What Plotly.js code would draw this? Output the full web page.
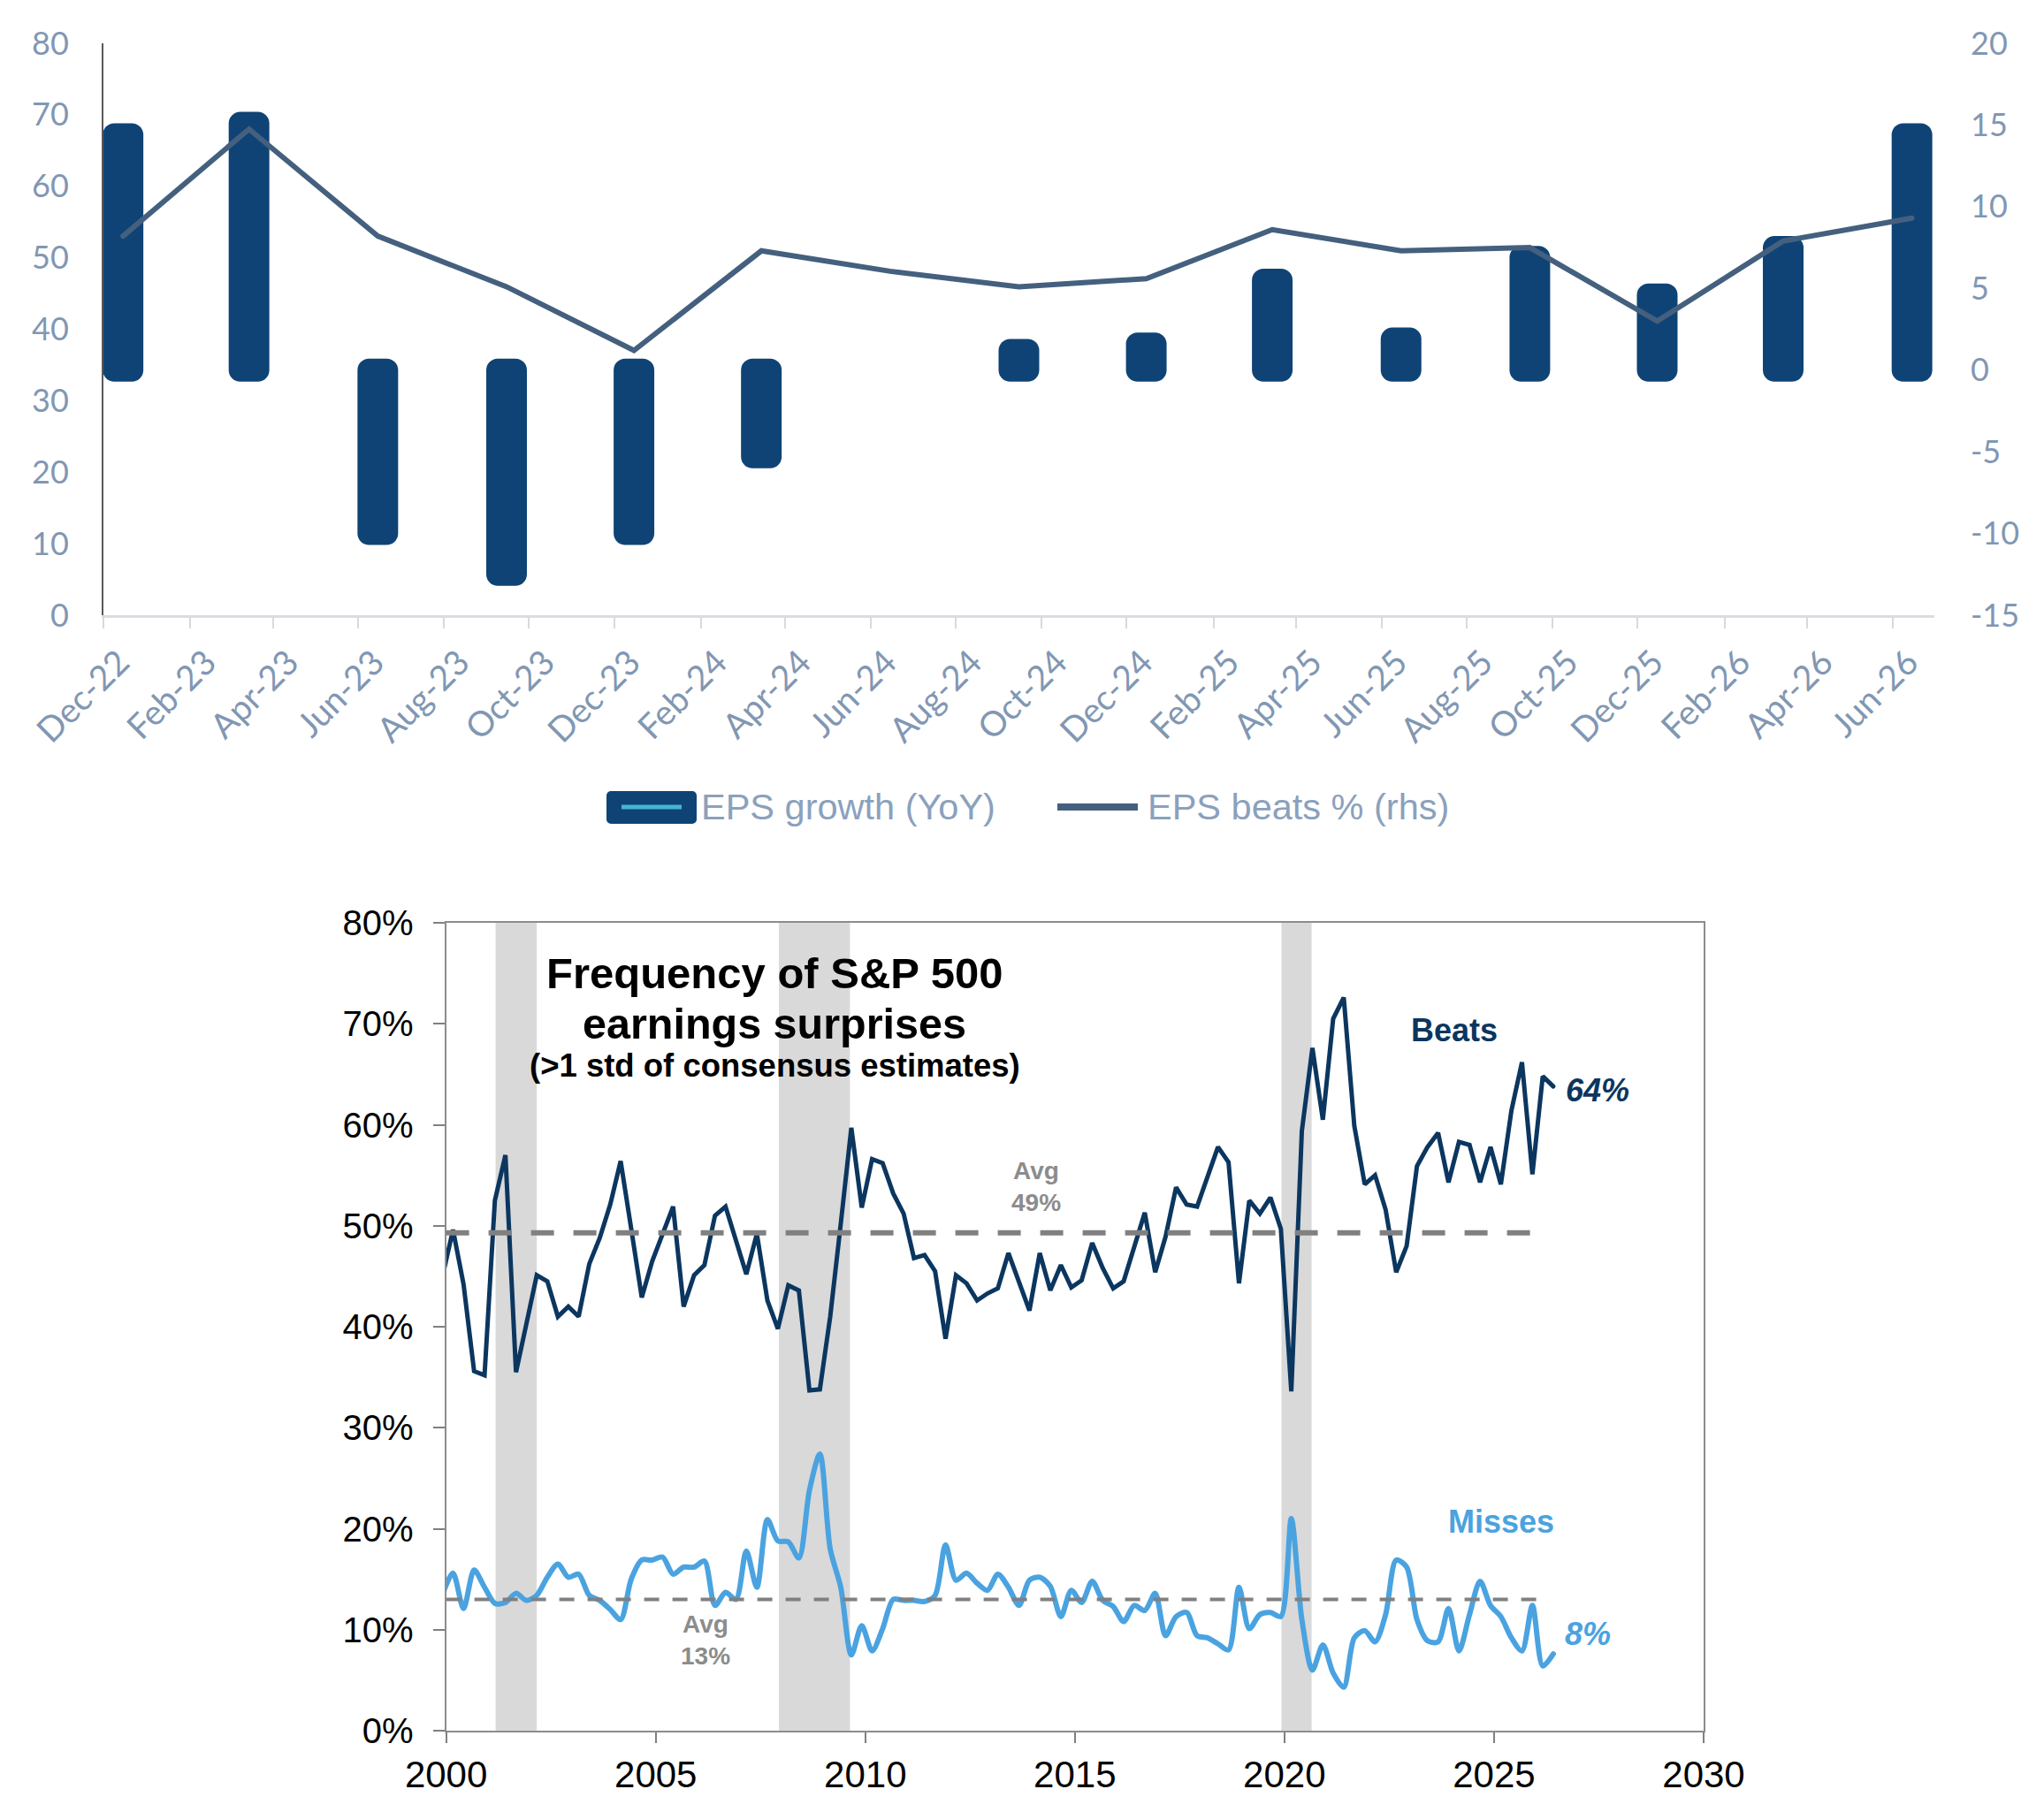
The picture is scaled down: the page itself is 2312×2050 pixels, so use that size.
<!DOCTYPE html>
<html>
<head>
<meta charset="utf-8">
<script src="https://cdn.plot.ly/plotly-3.0.1.min.js"></script>
<style>
  html, body { margin: 0; padding: 0; background: #fff; }
  #chart { width: 2312px; height: 2050px; }
  /* Excel-style rounded bar ends and round line caps */
  .trace.bars path { stroke-linejoin: round; }
  .shapelayer path { stroke-linejoin: round; }
  .trace.scatter .js-line { stroke-linecap: round; }
</style>
</head>
<body>
<div id="chart"></div>
<script>
const W = 2312, H = 2050;
const px = x => x / W;
const py = y => 1 - y / H;

// ---- top chart: EPS growth vs EPS beats (quarterly) ----
const epsDates = ['2022-12-15', '2023-03-15', '2023-06-15', '2023-09-15', '2023-12-15',
    '2024-03-15', '2024-06-15', '2024-09-15', '2024-12-15', '2025-03-15',
    '2025-06-15', '2025-09-15', '2025-12-15', '2026-03-15', '2026-06-15'];
const epsGrowth = [14.4, 15.1, -10.0, -12.5, -10.0, -5.3, null, 1.2, 1.6, 5.5, 1.9, 6.9, 4.6, 7.5, 14.4];
const epsBeats = [8.2, 14.75, 8.2, 5.1, 1.2, 7.3, 6.05, 5.1, 5.6, 8.6, 7.3, 7.5, 3.0, 7.9, 9.3];
const rhsTicks = [-15, -10, -5, 0, 5, 10, 15, 20];

// ---- bottom chart: frequency of S&P 500 earnings surprises, quarterly from Dec-1999 ----
const surpriseStart = { year: 1999, month: 12 };
const beats = [45.0, 49.6, 44.2, 35.6, 35.2, 52.5, 57.0, 35.5, 40.3, 45.1,
    44.5, 41.0, 42.0, 41.0, 46.2, 48.8, 52.1, 56.4, 49.7, 42.9,
    46.5, 49.3, 51.9, 42.0, 45.1, 46.1, 51.0, 51.9, 48.6, 45.2,
    49.2, 42.6, 39.8, 44.1, 43.6, 33.7, 33.8, 41.0, 50.2, 59.7,
    51.8, 56.6, 56.2, 53.2, 51.2, 46.8, 47.1, 45.5, 38.8, 45.1,
    44.3, 42.6, 43.3, 43.8, 47.3, 44.5, 41.6, 47.3, 43.6, 46.1,
    43.9, 44.6, 48.3, 45.8, 43.8, 44.5, 47.8, 51.3, 45.4, 48.9,
    53.8, 52.1, 51.9, 54.8, 57.8, 56.3, 44.3, 52.5, 51.2, 52.8,
    49.7, 33.6, 59.4, 67.6, 60.5, 70.5, 72.6, 59.9, 54.1, 55.0,
    51.6, 45.4, 48.0, 55.9, 57.8, 59.2, 54.3, 58.3, 58.0, 54.3,
    57.8, 54.1, 61.4, 66.2, 55.1, 64.8, 63.8];
const misses = [13.5, 15.6, 12.1, 15.9, 14.2, 12.6, 12.7, 13.6, 12.9, 13.4,
    15.2, 16.5, 15.2, 15.5, 13.4, 12.9, 12.0, 11.0, 15.0, 16.9,
    16.9, 17.2, 15.5, 16.2, 16.2, 16.8, 12.4, 13.7, 13.0, 17.8,
    14.2, 20.9, 18.8, 18.7, 17.1, 23.8, 27.4, 18.0, 14.2, 7.5,
    10.4, 7.9, 10.1, 13.0, 12.9, 12.9, 12.8, 13.4, 18.4, 14.9,
    15.6, 14.6, 13.9, 15.5, 14.2, 12.4, 14.9, 15.2, 14.3, 11.3,
    13.9, 12.7, 14.8, 12.9, 12.3, 10.8, 12.4, 11.9, 13.6, 9.4,
    11.3, 11.7, 9.4, 9.2, 8.6, 8.0, 14.2, 10.1, 11.5, 11.7,
    11.3, 21.0, 11.0, 6.0, 8.5, 5.7, 4.3, 9.2, 9.9, 8.8,
    11.5, 16.9, 16.2, 11.0, 8.9, 8.8, 12.1, 7.9, 11.5, 14.8,
    12.4, 11.3, 9.2, 7.9, 12.4, 6.4, 7.6];
const avgBeats = 49.3;
const avgMisses = 13.0;
const avgSpan = ['2000-01-01', '2026-02-01'];
const recessionStart = ['2001-03-07', '2007-12-10', '2019-12-06'];
const recessionEnd = ['2002-03-01', '2009-08-20', '2020-08-25'];

// quarter dates for the surprise series
const surpriseDates = beats.map((_, i) => {
    const m = surpriseStart.month - 1 + 3 * i;
    const yr = surpriseStart.year + Math.floor(m / 12);
    const mo = (m % 12) + 1;
    return yr + '-' + String(mo).padStart(2, '0') + '-01';
});

const navy = '#0f4375';
const slate = '#44607e';
const tickBlue = '#8197b3';
const beatsColor = '#0b365f';
const missColor = '#4aa3e0';
const avgGrey = '#808080';

const traces = [
    { x: [], y: [], xaxis: 'x', yaxis: 'y', type: 'scatter', showlegend: false, hoverinfo: 'skip' },
    {
        x: epsDates, y: epsGrowth, xaxis: 'x', yaxis: 'y2', type: 'bar',
        width: 1.09e9,
        marker: { color: navy, line: { color: navy, width: 26 } },
        name: 'EPS growth (YoY)', showlegend: false,
    },
    {
        x: epsDates, y: epsBeats, xaxis: 'x', yaxis: 'y2', type: 'scatter', mode: 'lines',
        line: { color: slate, width: 6 },
        name: 'EPS beats % (rhs)', showlegend: false,
    },
    {
        x: surpriseDates, y: beats, xaxis: 'x2', yaxis: 'y3', type: 'scatter', mode: 'lines',
        line: { color: beatsColor, width: 5 },
        name: 'Beats', showlegend: false,
    },
    {
        x: surpriseDates, y: misses, xaxis: 'x2', yaxis: 'y3', type: 'scatter', mode: 'lines',
        line: { color: missColor, width: 6, shape: 'spline', smoothing: 0.8 },
        name: 'Misses', showlegend: false,
    },
];

const shapes = [];
recessionStart.forEach((s, i) => {
    shapes.push({
        type: 'rect', xref: 'x2', yref: 'y3 domain', x0: s, x1: recessionEnd[i], y0: 0, y1: 1,
        fillcolor: '#d9d9d9', line: { width: 0 }, layer: 'below',
    });
});
shapes.push({
    type: 'line', xref: 'x2', yref: 'y3', x0: avgSpan[0], x1: avgSpan[1], y0: avgBeats, y1: avgBeats,
    line: { color: avgGrey, width: 6, dash: '26px,22px' },
});
shapes.push({
    type: 'line', xref: 'x2', yref: 'y3', x0: avgSpan[0], x1: avgSpan[1], y0: avgMisses, y1: avgMisses,
    line: { color: avgGrey, width: 4, dash: '17px,15px' },
});
// hand-drawn legend for the top chart
shapes.push({
    type: 'rect', xref: 'paper', yref: 'paper',
    x0: px(691), x1: px(783), y0: py(927), y1: py(900),
    fillcolor: navy, line: { color: navy, width: 10 },
});
shapes.push({
    type: 'line', xref: 'paper', yref: 'paper',
    x0: px(703), x1: px(771), y0: py(913), y1: py(913),
    line: { color: '#46b4d0', width: 5 },
});
shapes.push({
    type: 'line', xref: 'paper', yref: 'paper',
    x0: px(1196), x1: px(1287), y0: py(913), y1: py(913),
    line: { color: slate, width: 8 },
});

const legendFont = { family: '"Liberation Sans", Arial, sans-serif', size: 41.5, color: '#8aa1bd' };
const boldArial = '"Liberation Sans", Arial, sans-serif';

const annotations = [
    { xref: 'paper', yref: 'paper', x: px(791), y: py(913), xanchor: 'left', yanchor: 'middle',
      text: 'EPS growth (YoY)', showarrow: false, font: legendFont },
    { xref: 'paper', yref: 'paper', x: px(1296), y: py(913), xanchor: 'left', yanchor: 'middle',
      text: 'EPS beats % (rhs)', showarrow: false, font: legendFont },
    { xref: 'paper', yref: 'paper', x: px(876), y: py(1101), xanchor: 'center', yanchor: 'middle',
      text: '<b>Frequency of S&P 500</b>', showarrow: false,
      font: { family: boldArial, size: 49, color: '#000' } },
    { xref: 'paper', yref: 'paper', x: px(876), y: py(1158), xanchor: 'center', yanchor: 'middle',
      text: '<b>earnings surprises</b>', showarrow: false,
      font: { family: boldArial, size: 48.5, color: '#000' } },
    { xref: 'paper', yref: 'paper', x: px(876), y: py(1205), xanchor: 'center', yanchor: 'middle',
      text: '<b>(>1 std of consensus estimates)</b>', showarrow: false,
      font: { family: boldArial, size: 36.5, color: '#000' } },
    { xref: 'x2', yref: 'y3', x: '2014-01-25', y: 53.9, text: '<b>Avg<br>49%</b>', showarrow: false,
      font: { family: boldArial, size: 28, color: '#8c8c8c' } },
    { xref: 'x2', yref: 'y3', x: '2006-03-10', y: 9.0, text: '<b>Avg<br>13%</b>', showarrow: false,
      font: { family: boldArial, size: 28, color: '#8c8c8c' } },
    { xref: 'x2', yref: 'y3', x: '2024-01-18', y: 69.4, text: '<b>Beats</b>', showarrow: false,
      font: { family: boldArial, size: 36, color: beatsColor } },
    { xref: 'x2', yref: 'y3', x: '2027-06-25', y: 63.4, text: '<b><i>64%</i></b>', showarrow: false,
      font: { family: boldArial, size: 36, color: beatsColor } },
    { xref: 'x2', yref: 'y3', x: '2025-03-01', y: 20.7, text: '<b>Misses</b>', showarrow: false,
      font: { family: boldArial, size: 36, color: missColor } },
    { xref: 'x2', yref: 'y3', x: '2027-03-25', y: 9.6, text: '<b><i>8%</i></b>', showarrow: false,
      font: { family: boldArial, size: 36, color: missColor } },
];

const layout = {
    width: W,
    height: H,
    margin: { l: 0, r: 0, t: 0, b: 0 },
    paper_bgcolor: '#fff',
    plot_bgcolor: 'rgba(0,0,0,0)',
    showlegend: false,
    bargap: 0,
    xaxis: {
        domain: [px(117), px(2188)],
        anchor: 'y',
        type: 'date',
        range: ['2022-12-01', '2026-07-01'],
        tick0: '2022-12-01',
        dtick: 'M2',
        tickformat: '%b-%y',
        tickangle: -45,
        ticks: 'outside',
        ticklen: 12,
        tickwidth: 2,
        tickcolor: '#d9d9d9',
        ticklabelshift: 18,
        showline: true,
        linecolor: '#d9dde3',
        linewidth: 3,
        showgrid: false,
        zeroline: false,
        tickfont: { family: 'Lato, sans-serif', size: 39, color: tickBlue },
    },
    yaxis: {
        domain: [py(696), py(49)],
        anchor: 'x',
        range: [0, 80],
        dtick: 10,
        showline: true,
        linecolor: '#595959',
        linewidth: 2,
        ticks: '',
        ticklabelstandoff: 30,
        showgrid: false,
        zeroline: false,
        tickfont: { family: 'Lato, sans-serif', size: 36, color: tickBlue },
    },
    yaxis2: {
        overlaying: 'y',
        anchor: 'x',
        side: 'right',
        range: [-15, 20],
        tickmode: 'array',
        tickvals: rhsTicks,
        ticktext: rhsTicks.map(String),
        showline: false,
        ticks: '',
        ticklabelstandoff: 40,
        showgrid: false,
        zeroline: false,
        tickfont: { family: 'Lato, sans-serif', size: 36, color: tickBlue },
    },
    xaxis2: {
        domain: [px(504.6), px(1927)],
        anchor: 'y3',
        type: 'date',
        range: ['2000-01-01', '2030-01-01'],
        tick0: '2000-01-01',
        dtick: 'M60',
        tickformat: '%Y',
        ticks: 'outside',
        ticklen: 12,
        tickwidth: 2,
        tickcolor: '#808080',
        showline: true,
        mirror: true,
        linecolor: '#8c8c8c',
        linewidth: 2,
        showgrid: false,
        zeroline: false,
        ticklabelstandoff: 0,
        tickfont: { family: boldArial, size: 42, color: '#000' },
    },
    yaxis3: {
        domain: [py(1958), py(1044)],
        anchor: 'x2',
        range: [0, 80],
        dtick: 10,
        ticksuffix: '%',
        ticks: 'outside',
        ticklen: 13,
        tickwidth: 2,
        tickcolor: '#808080',
        showline: true,
        mirror: true,
        linecolor: '#8c8c8c',
        linewidth: 2,
        showgrid: false,
        zeroline: false,
        ticklabelstandoff: 14,
        tickfont: { family: boldArial, size: 40, color: '#000' },
    },
    shapes: shapes,
    annotations: annotations,
};

Plotly.newPlot('chart', traces, layout, { displayModeBar: false, staticPlot: true });
</script>
</body>
</html>
